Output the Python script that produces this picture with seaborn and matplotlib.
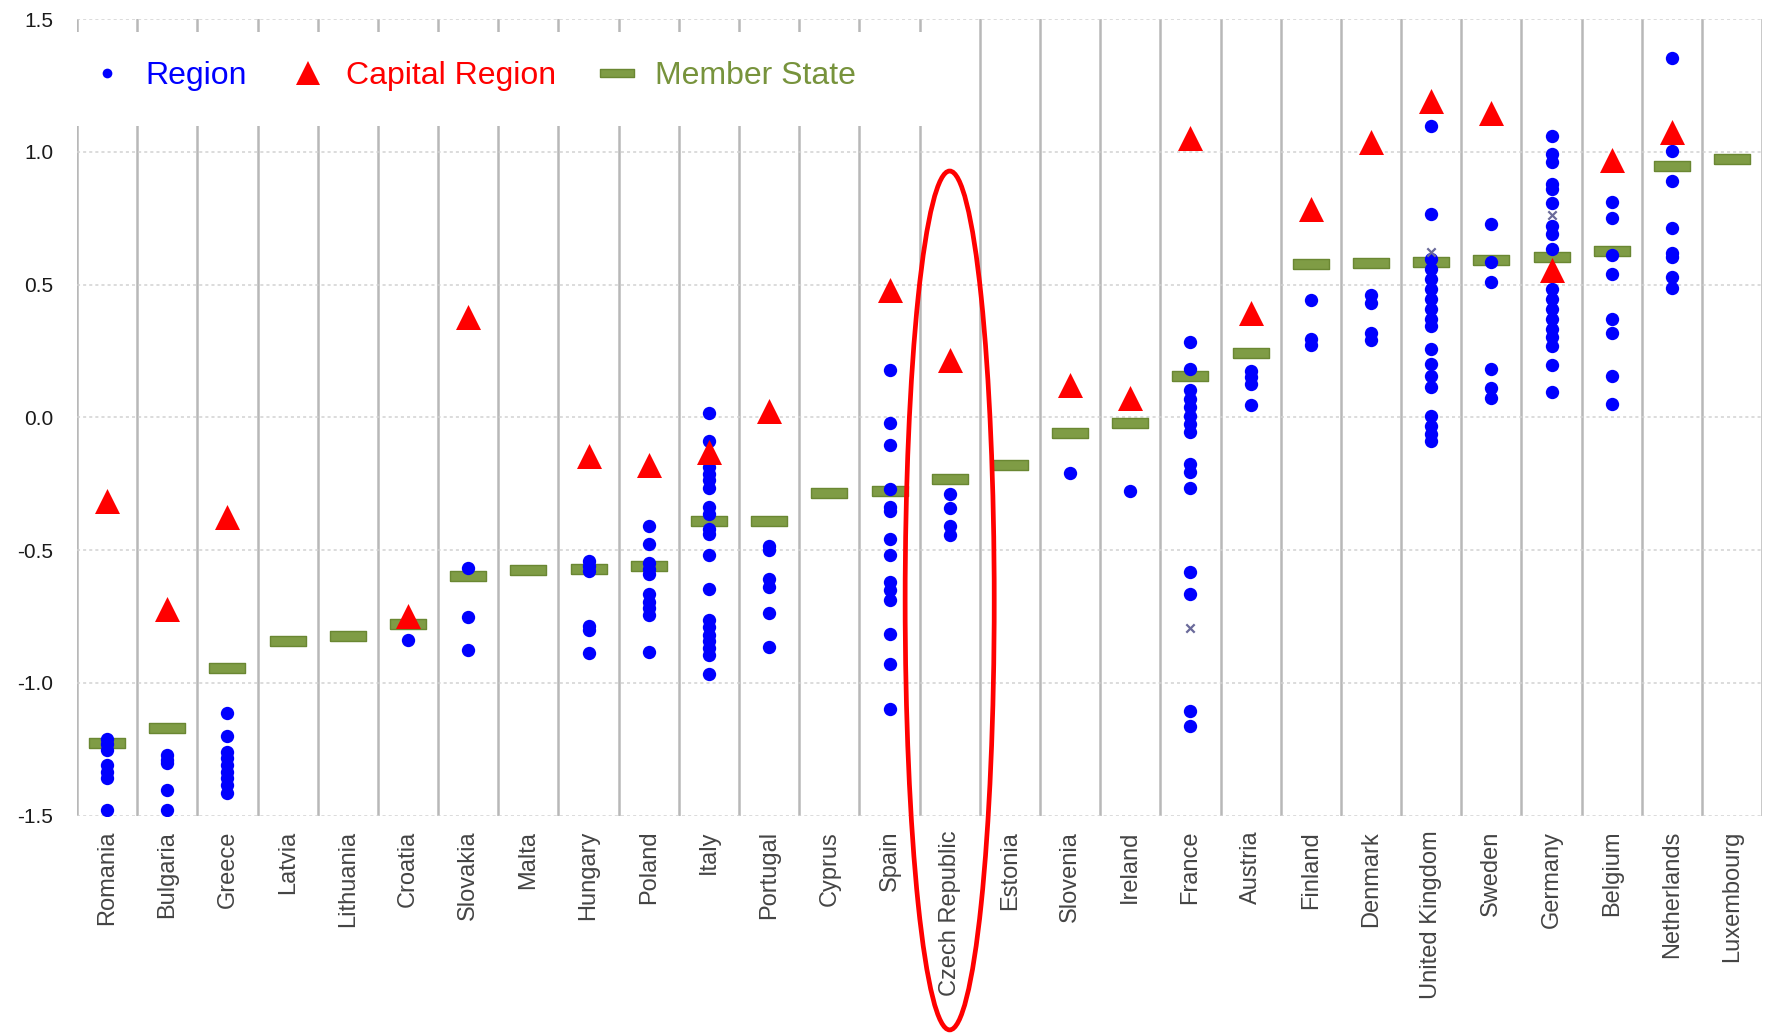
import pandas as pd
import seaborn as sns
import matplotlib.pyplot as plt
from matplotlib.lines import Line2D
from matplotlib.patches import Ellipse, Rectangle

countries = ['Romania', 'Bulgaria', 'Greece', 'Latvia', 'Lithuania', 'Croatia', 'Slovakia',
             'Malta', 'Hungary', 'Poland', 'Italy', 'Portugal', 'Cyprus', 'Spain',
             'Czech Republic', 'Estonia', 'Slovenia', 'Ireland', 'France', 'Austria',
             'Finland', 'Denmark', 'United Kingdom', 'Sweden', 'Germany', 'Belgium',
             'Netherlands', 'Luxembourg']

member_state = [-1.227, -1.17, -0.943, -0.844, -0.822, -0.778, -0.597, -0.575, -0.57, -0.561,
                -0.39, -0.389, -0.284, -0.279, -0.234, -0.18, -0.058, -0.02, 0.157, 0.243,
                0.576, 0.582, 0.586, 0.593, 0.605, 0.628, 0.945, 0.974]

capital_country = ['Romania', 'Bulgaria', 'Greece', 'Croatia', 'Slovakia', 'Hungary', 'Poland',
                   'Italy', 'Portugal', 'Spain', 'Czech Republic', 'Slovenia', 'Ireland', 'France',
                   'Austria', 'Finland', 'Denmark', 'United Kingdom', 'Sweden', 'Germany',
                   'Belgium', 'Netherlands']
capital_value = [-0.315, -0.724, -0.374, -0.75, 0.377, -0.147, -0.179, -0.131, 0.023, 0.481,
                 0.217, 0.12, 0.072, 1.05, 0.391, 0.784, 1.037, 1.19, 1.147, 0.553, 0.968, 1.076]

region_points = {
    'Romania': [-1.21, -1.23, -1.254, -1.31, -1.335, -1.36, -1.479],
    'Bulgaria': [-1.273, -1.29, -1.304, -1.404, -1.479],
    'Greece': [-1.115, -1.202, -1.26, -1.285, -1.31, -1.335, -1.36, -1.385, -1.416],
    'Croatia': [-0.839],
    'Slovakia': [-0.566, -0.752, -0.877],
    'Hungary': [-0.54, -0.56, -0.58, -0.785, -0.80, -0.887],
    'Poland': [-0.408, -0.476, -0.548, -0.57, -0.59, -0.667, -0.695, -0.72, -0.746, -0.884],
    'Italy': [0.015, -0.088, -0.187, -0.212, -0.237, -0.265, -0.338, -0.364, -0.42, -0.44,
              -0.52, -0.645, -0.765, -0.79, -0.82, -0.843, -0.87, -0.894, -0.967],
    'Portugal': [-0.485, -0.50, -0.61, -0.64, -0.737, -0.867],
    'Spain': [0.178, -0.022, -0.105, -0.272, -0.338, -0.353, -0.46, -0.517, -0.62, -0.65,
              -0.69, -0.816, -0.93, -1.10],
    'Czech Republic': [-0.289, -0.34, -0.41, -0.445],
    'Slovenia': [-0.21],
    'Ireland': [-0.279],
    'France': [0.282, 0.183, 0.101, 0.069, 0.038, 0.006, -0.025, -0.057, -0.177, -0.208,
               -0.265, -0.582, -0.665, -1.105, -1.163],
    'Austria': [0.174, 0.152, 0.126, 0.045],
    'Finland': [0.443, 0.296, 0.274],
    'Denmark': [0.461, 0.432, 0.318, 0.292],
    'United Kingdom': [1.097, 0.764, 0.597, 0.559, 0.521, 0.484, 0.446, 0.408, 0.371, 0.345,
                       0.258, 0.201, 0.157, 0.113, 0.006, -0.031, -0.063, -0.088],
    'Sweden': [0.727, 0.586, 0.51, 0.18, 0.109, 0.073],
    'Germany': [1.059, 0.992, 0.961, 0.879, 0.861, 0.808, 0.722, 0.691, 0.634, 0.484, 0.446,
                0.408, 0.371, 0.333, 0.302, 0.27, 0.195, 0.097],
    'Belgium': [0.809, 0.751, 0.612, 0.54, 0.371, 0.318, 0.155, 0.049],
    'Netherlands': [1.355, 1.004, 0.889, 0.713, 0.619, 0.602, 0.53, 0.487],
}

# small grey crosses (unlabelled series in the original)
other_country = ['France', 'United Kingdom', 'Germany']
other_value = [-0.795, 0.622, 0.76]

yticks = [-1.5, -1.0, -0.5, 0.0, 0.5, 1.0, 1.5]

blue = '#0000FF'
red = '#FF0000'
olive = '#77933C'

members = pd.DataFrame({'country': countries, 'value': member_state})
capitals = pd.DataFrame({'country': capital_country, 'value': capital_value})
regions = pd.DataFrame([(c, v) for c, vals in region_points.items() for v in vals],
                       columns=['country', 'value'])
others = pd.DataFrame({'country': other_country, 'value': other_value})

sns.set_theme(style='white')
plt.rcParams['font.family'] = ['Liberation Sans', 'DejaVu Sans']

fig = plt.figure(figsize=(17.71, 10.34), dpi=100)
ax = fig.add_axes([0.0435, 0.2113, 0.9515, 0.7703])

bar_marker = [(-2, -0.5), (2, -0.5), (2, 0.5), (-2, 0.5), (-2, -0.5)]

sns.stripplot(data=members, x='country', y='value', order=countries, jitter=False,
              marker=bar_marker, size=26, color='#7f9c45', edgecolor='#6a8732', linewidth=1,
              ax=ax, zorder=3)
sns.stripplot(data=regions, x='country', y='value', order=countries, jitter=False,
              marker='o', size=9.6, color=blue, linewidth=0, ax=ax, zorder=4)
sns.stripplot(data=others, x='country', y='value', order=countries, jitter=False,
              marker='x', size=6, color='#6a6a9a', linewidth=1.6, ax=ax, zorder=4)
sns.stripplot(data=capitals, x='country', y='value', order=countries, jitter=False,
              marker='^', size=18, color=red, linewidth=0, ax=ax, zorder=5)

ax.set_xlim(-0.5, len(countries) - 0.5)
ax.set_ylim(-1.5, 1.5)
ax.set_xlabel('')
ax.set_ylabel('')

# category separators and dotted horizontal grid
for i in range(len(countries) + 1):
    ax.axvline(i - 0.5, color='#b8b8b8', lw=1.8, zorder=1)
for y in yticks:
    ax.axhline(y, color='#d2d2d2', lw=1.1, ls=(0, (2, 2)), zorder=1)
for s in ax.spines.values():
    s.set_visible(False)

# white band behind the legend hides the separators there
ax.add_patch(Rectangle((-0.5, 1.096), 14.4, 0.357, facecolor='white', edgecolor='none',
                       zorder=2))

ax.set_yticks(yticks)
ax.set_yticklabels([f'{t:.1f}' for t in yticks], fontsize=15, color='#1a1a1a')
ax.set_xticks(range(len(countries)))
ax.set_xticklabels(countries, rotation=90, fontsize=17, color='#444444')
ax.tick_params(axis='y', length=0, pad=17)
ax.tick_params(axis='x', length=0, pad=11)

handles = [
    Line2D([], [], ls='', marker='o', markersize=7, color=blue, markeredgewidth=0),
    Line2D([], [], ls='', marker='^', markersize=17, color=red, markeredgewidth=0),
    Line2D([], [], ls='', marker=bar_marker, markersize=24, markerfacecolor='#7f9c45',
           markeredgecolor='#6a8732', markeredgewidth=1),
]
leg = ax.legend(handles, ['Region', 'Capital Region', 'Member State'], loc='upper left',
                bbox_to_anchor=(0.0, 0.965), ncol=3, frameon=False, fontsize=23,
                labelcolor=[blue, red, olive], handletextpad=0.7, columnspacing=1.4,
                borderpad=0.44, borderaxespad=0, handlelength=1.0)
leg.set_zorder(6)

# highlight ring round the Czech Republic column
cz = countries.index('Czech Republic')
ax.add_patch(Ellipse((cz, -0.69), 1.48, 3.235, fill=False, edgecolor=red, lw=3.4,
                     clip_on=False, zorder=7))

fig.savefig('out.png', dpi=100)
